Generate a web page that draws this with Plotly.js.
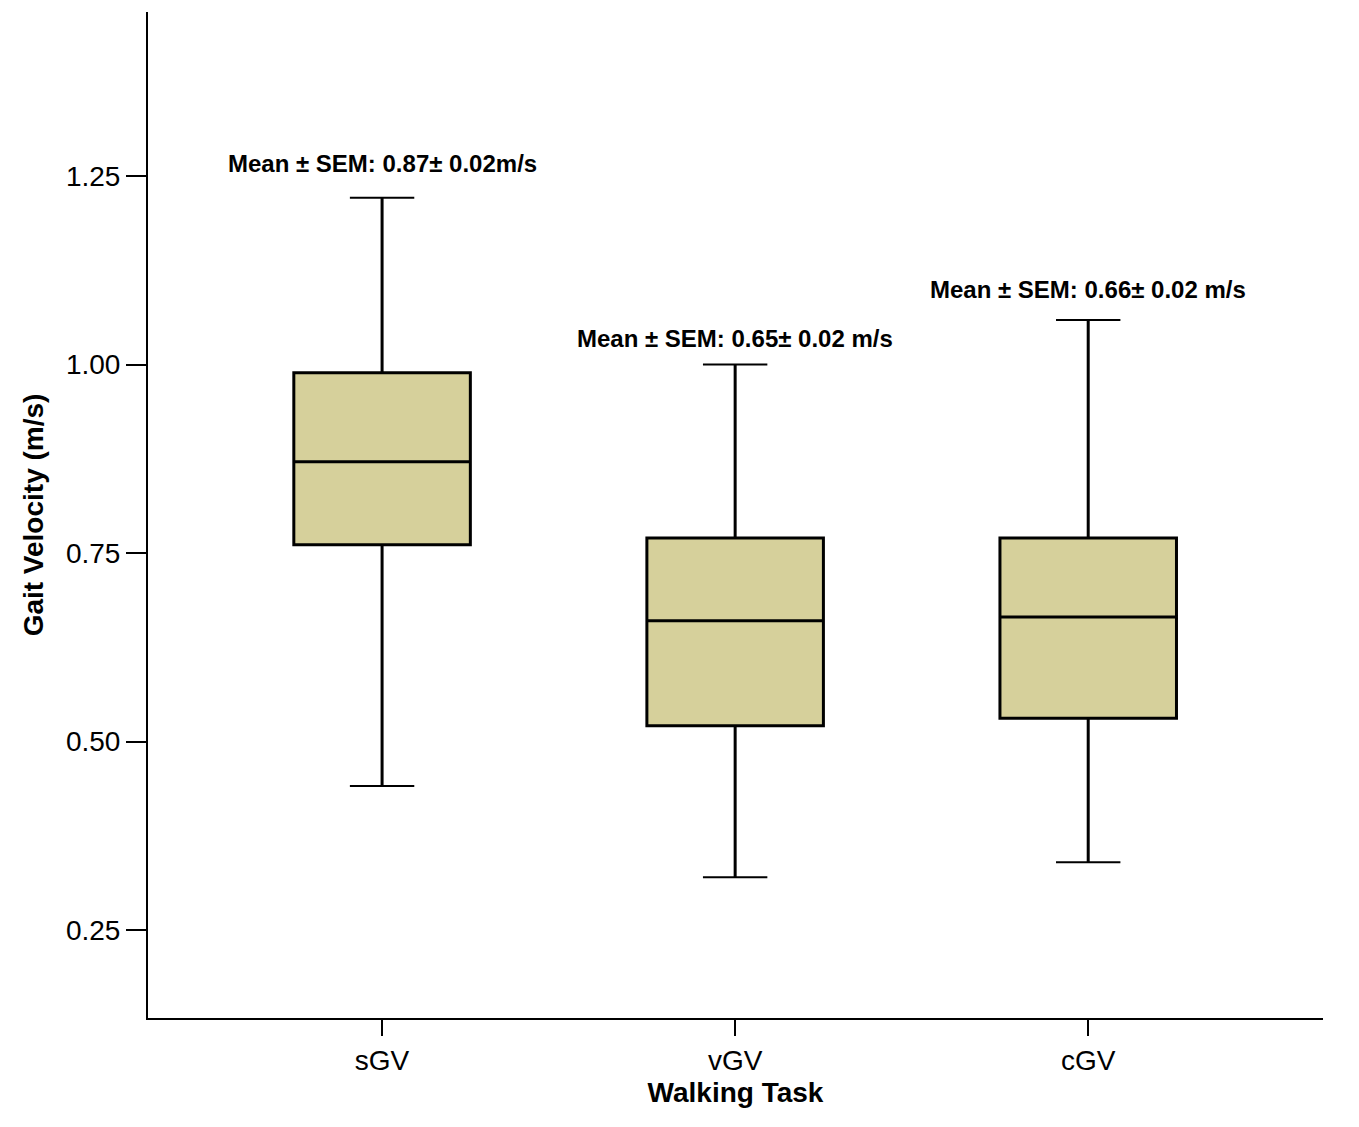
<!DOCTYPE html>
<html>
<head>
<script src="https://cdn.plot.ly/plotly-3.0.1.min.js"></script>
<style>body{margin:0;background:#fff}</style>
</head>
<body>
<div id="chart" style="width:1359px;height:1127px"></div>
<script>
// Gait velocity per walking task
var tasks = ['sGV', 'vGV', 'cGV'];
var lowerWhisker = [0.441, 0.320, 0.340];
var q1 = [0.761, 0.521, 0.531];
var median = [0.871, 0.660, 0.665];
var q3 = [0.989, 0.770, 0.770];
var upperWhisker = [1.221, 1.000, 1.059];
var labels = ['Mean ± SEM: 0.87± 0.02m/s', 'Mean ± SEM: 0.65± 0.02 m/s', 'Mean ± SEM: 0.66± 0.02 m/s'];
var labelY = [1.267, 1.035, 1.100];

var font = 'Liberation Sans, Arial, sans-serif';

var boxes = {
    type: 'box',
    x: tasks,
    q1: q1, median: median, q3: q3,
    lowerfence: lowerWhisker, upperfence: upperWhisker,
    fillcolor: '#d6d09b',
    line: {color: '#000', width: 3},
    width: 0.5,
    whiskerwidth: 0,
    boxpoints: false,
    hoverinfo: 'none'
};
// whisker caps
var caps = {
    type: 'scatter', mode: 'markers',
    x: tasks.concat(tasks),
    y: lowerWhisker.concat(upperWhisker),
    marker: {symbol: 'line-ew', size: 46, line: {color: '#000', width: 2}},
    hoverinfo: 'none'
};

var layout = {
    width: 1359, height: 1127,
    margin: {l: 148, r: 36, t: 12, b: 109},
    showlegend: false,
    plot_bgcolor: '#fff', paper_bgcolor: '#fff',
    xaxis: {
        type: 'category', range: [-0.663, 2.665],
        showline: true, linecolor: '#000', linewidth: 2,
        ticks: 'outside', ticklen: 16, tickwidth: 2, tickcolor: '#000',
        tickfont: {family: font, size: 28, color: '#000'},
        title: {text: '<b>Walking Task</b>', font: {family: font, size: 28, color: '#000'}, standoff: 8},
        showgrid: false, zeroline: false
    },
    yaxis: {
        range: [0.1333, 1.4675],
        tickvals: [0.25, 0.5, 0.75, 1.0, 1.25],
        ticktext: ['0.25', '0.50', '0.75', '1.00', '1.25'],
        showline: true, linecolor: '#000', linewidth: 2,
        ticks: 'outside', ticklen: 20, tickwidth: 2, tickcolor: '#000',
        tickfont: {family: font, size: 28, color: '#000'},
        title: {text: '<b>Gait Velocity (m/s)</b>', font: {family: font, size: 28, color: '#000'}, standoff: 14},
        showgrid: false, zeroline: false
    },
    annotations: tasks.map(function(t, i) {
        return {x: t, y: labelY[i], text: '<b>' + labels[i] + '</b>', showarrow: false,
            font: {family: font, size: 24, color: '#000'}};
    })
};

Plotly.newPlot('chart', [boxes, caps], layout, {displayModeBar: false});
</script>
</body>
</html>
